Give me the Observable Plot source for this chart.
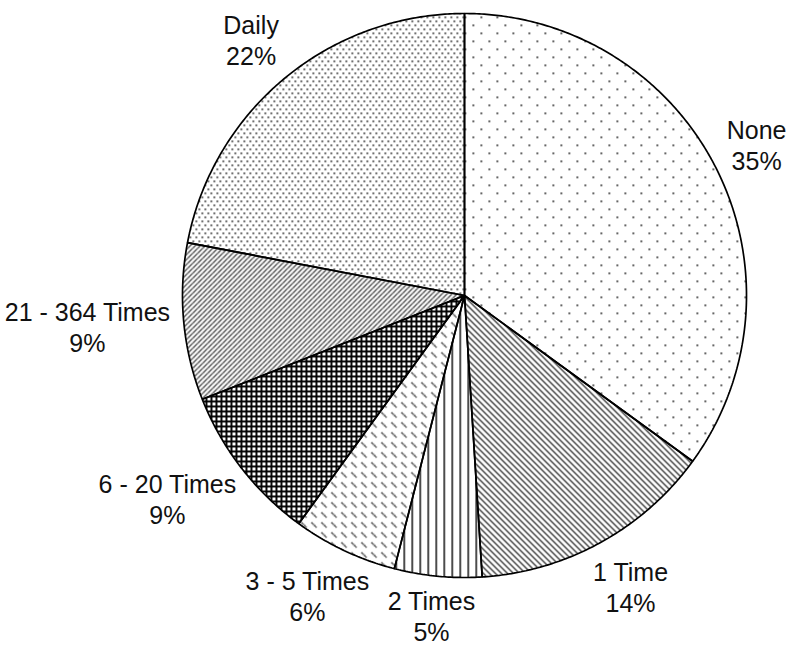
<!DOCTYPE html>
<html>
<head>
<meta charset="utf-8">
<script src="https://cdn.jsdelivr.net/npm/d3@7"></script>
<script src="https://cdn.jsdelivr.net/npm/@observablehq/plot@0.6"></script>
<style>
  html, body { margin: 0; padding: 0; background: #fff; }
  #chart svg { display: block; }
</style>
</head>
<body>
<svg width="0" height="0" style="position:absolute">
  <defs>
    <pattern id="pNone" width="16" height="16" patternUnits="userSpaceOnUse">
      <rect x="0" y="0" width="1.6" height="1.6" fill="#111"/>
      <rect x="8" y="8" width="1.6" height="1.6" fill="#111"/>
    </pattern>
    <pattern id="p1" width="6" height="6" patternUnits="userSpaceOnUse">
      <path d="M0,0L6,6M-1,5L1,7M5,-1L7,1" stroke="#000" stroke-width="1.1"/>
    </pattern>
    <pattern id="p2" width="8" height="8" patternUnits="userSpaceOnUse">
      <rect x="3" y="0" width="1.4" height="8" fill="#000"/>
    </pattern>
    <pattern id="p35" width="10" height="10" patternUnits="userSpaceOnUse">
      <path d="M1,2L6,7" stroke="#000" stroke-width="1.3" stroke-dasharray="1.4 0.6"/>
    </pattern>
    <pattern id="p620" width="5" height="5" patternUnits="userSpaceOnUse">
      <rect x="0" y="0" width="5" height="1.9" fill="#000"/>
      <rect x="0" y="0" width="1.9" height="5" fill="#000"/>
    </pattern>
    <pattern id="p21" width="5" height="5" patternUnits="userSpaceOnUse">
      <path d="M0,5L5,0M-1,1L1,-1M4,6L6,4" stroke="#000" stroke-width="1.15" stroke-dasharray="1.5 0.4"/>
    </pattern>
    <pattern id="pDaily" width="6" height="8" patternUnits="userSpaceOnUse">
      <rect x="0" y="0" width="1.6" height="1.6" fill="#222"/>
      <rect x="3" y="4" width="1.6" height="1.6" fill="#222"/>
    </pattern>
  </defs>
</svg>
<div id="chart"></div>
<script>
// ---- data ----
const categories = ["None", "1 Time", "2 Times", "3 - 5 Times", "6 - 20 Times", "21 - 364 Times", "Daily"];
const values = [35, 14, 5, 6, 9, 9, 22];
const percentLabels = ["35%", "14%", "5%", "6%", "9%", "9%", "22%"];
const patterns = ["pNone", "p1", "p2", "p35", "p620", "p21", "pDaily"];

// ---- layout ----
const W = 790, H = 648;
const cx = 464, cy = 295, R = 282;
const fontSize = 25, lineH = 31;
const fontFamily = "'Liberation Sans', Arial, sans-serif";

const total = d3.sum(values);
let acc = 0;
const slices = values.map((v, i) => {
  const a0 = acc / total * 2 * Math.PI;
  acc += v;
  const a1 = acc / total * 2 * Math.PI;
  const n = Math.max(2, Math.ceil((a1 - a0) / (Math.PI / 360)));
  const pts = [{x: 0, y: 0}];
  for (let k = 0; k <= n; k++) {
    const a = a0 + (a1 - a0) * k / n;
    pts.push({x: Math.sin(a), y: Math.cos(a)});
  }
  pts.push({x: 0, y: 0});
  return {cat: categories[i], pid: patterns[i], pts, mid: (a0 + a1) / 2};
});

// label placement outside the pie, kept inside the canvas
const ctx = document.createElement("canvas").getContext("2d");
ctx.font = `${fontSize}px ${fontFamily}`;
const gap = 25, edgeX = 4, edgeY = 8;
const labels = slices.map((s, i) => {
  const w = Math.max(ctx.measureText(categories[i]).width, ctx.measureText(percentLabels[i]).width);
  const hw = w / 2, hh = 25;
  const ux = Math.sin(s.mid), uy = -Math.cos(s.mid); // screen direction
  let px = cx + (R + gap) * ux + hw * ux;
  let py = cy + (R + gap) * uy + hh * uy;
  px = Math.max(hw + edgeX, Math.min(W - hw - edgeX, px));
  py = Math.max(hh + edgeY, Math.min(H - hh - edgeY, py));
  return {
    x: (px - cx) / R,
    y: (cy - py) / R,
    text: categories[i] + "\n" + percentLabels[i]
  };
});

const chart = Plot.plot({
  width: W,
  height: H,
  margin: 0,
  x: {axis: null, domain: [-cx / R, (W - cx) / R]},
  y: {axis: null, domain: [-(H - cy) / R, cy / R]},
  style: {background: "#fff", overflow: "visible"},
  marks: [
    ...slices.map(s => Plot.line(s.pts, {
      x: "x", y: "y", fill: `url(#${s.pid})`, stroke: "#000", strokeWidth: 1.7, strokeLinejoin: "miter"
    })),
    Plot.text(labels, {
      x: "x", y: "y", text: "text", fontSize, fontFamily, lineHeight: lineH / fontSize, fill: "#111"
    })
  ]
});
document.getElementById("chart").appendChild(chart);
</script>
</body>
</html>
